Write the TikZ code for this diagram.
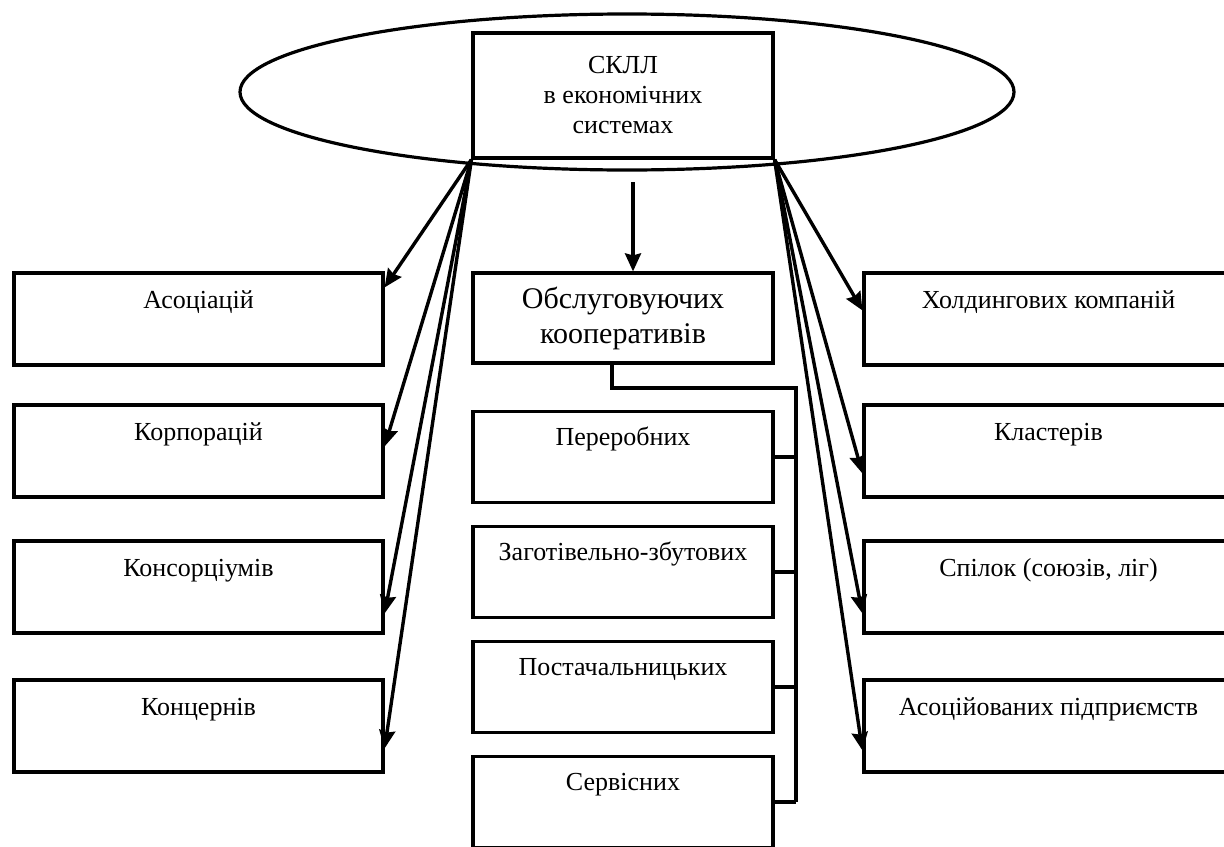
\documentclass[tikz,border=0pt]{standalone}
\usepackage{fontspec}
\setmainfont{Liberation Serif}
\usetikzlibrary{shapes.geometric, arrows.meta, positioning}
\tikzstyle{arrow} = [line width=1.7pt, -{Stealth[length=9pt, width=8pt, inset=1pt]}]
\tikzstyle{link} = [line width=1.6pt]
\tikzstyle{unit} = [rectangle, draw=black, line width=1.6pt, minimum width=184.5pt, text height=17.5pt, text depth=28.5pt, inner ysep=0pt, font=\fontsize{13}{15}\selectfont]
\tikzstyle{coop} = [rectangle, draw=black, line width=1.6pt, minimum width=150pt, text height=17pt, text depth=28.5pt, inner ysep=0pt, font=\fontsize{13}{15}\selectfont]
\tikzstyle{head} = [rectangle, draw=black, fill=white, line width=1.6pt, minimum width=150pt, align=center]

\begin{document}
\begin{tikzpicture}[x=0.5pt, y=-0.5pt]
\path[use as bounding box] (0,0) rectangle (1224,846);
\clip (0,0) rectangle (1224,846);

% Placement of nodes
\node (oval) [ellipse, draw=black, line width=1.6pt, minimum width=387pt, minimum height=78pt, inner sep=0pt] at (627,92) {};
\node (sklb) [head, minimum height=62.5pt, font=\fontsize{13}{15}\selectfont] at (623,95.5) {СКЛЛ\\в економічних\\системах};

\node (assoc) [unit] at (198.5,319) {Асоціацій};
\node (corp) [unit, below of=assoc, node distance=66pt] {Корпорацій};
\node (cons) [unit, below of=corp, node distance=68pt] {Консорціумів};
\node (conc) [unit, below of=cons, node distance=69.5pt] {Концернів};

\node (hold) [unit] at (1048.5,319) {Холдингових компаній};
\node (clust) [unit, below of=hold, node distance=66pt] {Кластерів};
\node (union) [unit, below of=clust, node distance=68pt] {Спілок (союзів, ліг)};
\node (affil) [unit, below of=union, node distance=69.5pt] {Асоційованих підприємств};

\node (serv) [head, minimum height=45pt, font=\fontsize{15}{17.5}\selectfont] at (623,318) {Обслуговуючих\\кооперативів};
\node (proc) [coop] at (623,457) {Переробних};
\node (sales) [coop, below of=proc, node distance=57.5pt] {Заготівельно-збутових};
\node (supp) [coop, below of=sales, node distance=57.5pt] {Постачальницьких};
\node (svc) [coop, below of=supp, node distance=57.5pt] {Сервісних};

\coordinate (cstart) at (633,182);
\coordinate (bus) at (796,388);

% Placement of edges
\draw [arrow] (cstart) -- (cstart |- serv.north);

% left side
\draw [arrow] (sklb.south west) -- ([yshift=-8pt]assoc.north east);
\draw [arrow] (sklb.south west) -- ([yshift=-21.5pt]corp.north east);
\draw [arrow] (sklb.south west) -- ([yshift=-37pt]cons.north east);
\draw [arrow] (sklb.south west) -- ([yshift=-35pt]conc.north east);

% right side
\draw [arrow] (sklb.south east) -- ([yshift=-19.5pt]hold.north west);
\draw [arrow] (sklb.south east) -- ([yshift=-35pt]clust.north west);
\draw [arrow] (sklb.south east) -- ([yshift=-37pt]union.north west);
\draw [arrow] (sklb.south east) -- ([yshift=-36pt]affil.north west);

% cooperatives
\draw [link] ([xshift=-5.5pt]serv.south) |- (bus) -- (bus |- svc.east);
\foreach \n in {proc, sales, supp, svc}
  \draw [link] (\n.east) -- (\n.east -| bus);

\end{tikzpicture}
\end{document}
